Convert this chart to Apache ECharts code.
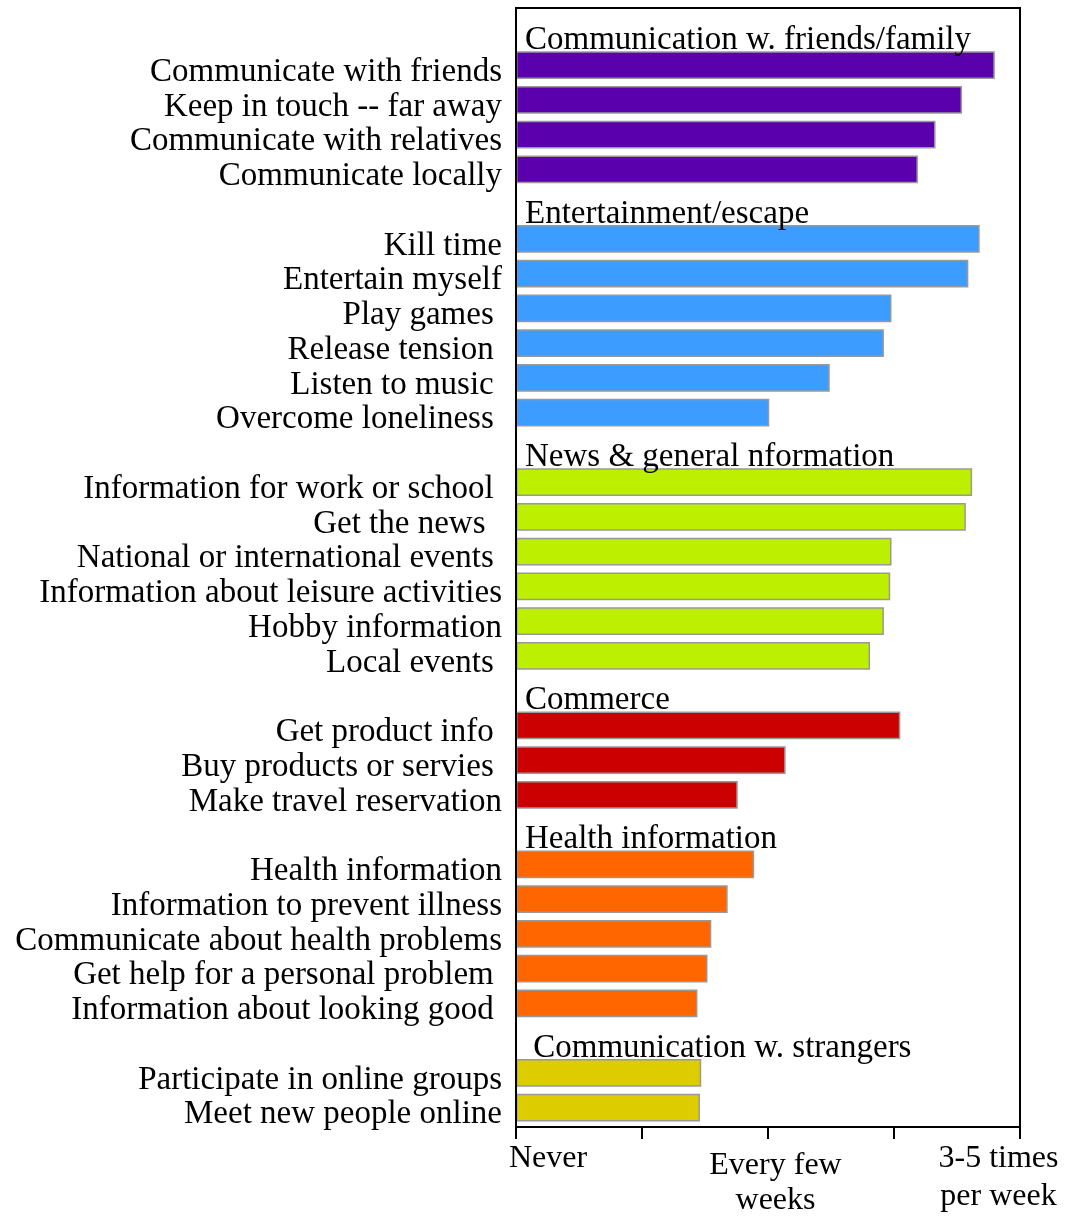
<!DOCTYPE html>
<html>
<head>
<meta charset="utf-8">
<script src="https://cdn.jsdelivr.net/npm/echarts@6/dist/echarts.min.js"></script>
<style>
html,body{margin:0;padding:0;background:#fff;}
#chart{width:1071px;height:1216px;}
</style>
</head>
<body>
<div id="chart"></div>
<script>
// ---- data ----
const groupTitles = [
  'Communication w. friends/family',
  'Entertainment/escape',
  'News & general nformation',
  'Commerce',
  'Health information',
  ' Communication w. strangers'
];

const commLabels = ['Communicate with friends', 'Keep in touch -- far away', 'Communicate with relatives', 'Communicate locally'];
const commValues = [3.80, 3.54, 3.33, 3.19];

const entLabels = ['Kill time', 'Entertain myself', 'Play games ', 'Release tension ', 'Listen to music ', 'Overcome loneliness '];
const entValues = [3.68, 3.59, 2.98, 2.92, 2.49, 2.01];

const newsLabels = ['Information for work or school ', 'Get the news  ', 'National or international events ', 'Information about leisure activities', 'Hobby information', 'Local events '];
const newsValues = [3.62, 3.57, 2.98, 2.97, 2.92, 2.81];

const commerceLabels = ['Get product info ', 'Buy products or servies ', 'Make travel reservation'];
const commerceValues = [3.05, 2.14, 1.76];

const healthLabels = ['Health information', 'Information to prevent illness', 'Communicate about health problems', 'Get help for a personal problem ', 'Information about looking good '];
const healthValues = [1.89, 1.68, 1.55, 1.52, 1.44];

const strangerLabels = ['Participate in online groups', 'Meet new people online'];
const strangerValues = [1.47, 1.46];

const xTickValues = [0, 2, 4];
const xTickLabels = ['Never', 'Every few\nweeks', '3-5 times\nper week'];

// ---- styles ----
const groupColors = ['#5A00AD', '#3D9CFF', '#BDEF00', '#CC0000', '#FF6600', '#DDCC00'];
const FONT = 'Liberation Serif';

const groupLabels = [commLabels, entLabels, newsLabels, commerceLabels, healthLabels, strangerLabels];
const groupValues = [commValues, entValues, newsValues, commerceValues, healthValues, strangerValues];

// build category slots: header slot + item slots per group
const categories = [];
const headerOfSlot = {};
const slotGroup = [];
groupLabels.forEach((labels, gi) => {
  headerOfSlot[categories.length] = gi;
  categories.push('#header' + gi);
  slotGroup.push(-1);
  labels.forEach(l => { categories.push(l); slotGroup.push(gi); });
});

const series = groupLabels.map((labels, gi) => {
  const data = categories.map(() => '-');
  let k = 0;
  categories.forEach((c, i) => {
    if (slotGroup[i] === gi) { data[i] = groupValues[gi][k++]; }
  });
  return {
    type: 'bar',
    name: groupTitles[gi],
    xAxisIndex: 0,
    yAxisIndex: 0,
    stack: 'all',
    data: data,
    barCategoryGap: '20%',
    itemStyle: { color: groupColors[gi], borderColor: '#999999', borderWidth: 1.5 },
    silent: true
  };
});

series.push({
  type: 'bar',
  name: 'headers',
  xAxisIndex: 0,
  yAxisIndex: 0,
  stack: 'all',
  data: categories.map((c, i) => (i in headerOfSlot ? 0 : '-')),
  itemStyle: { color: 'transparent', borderWidth: 0 },
  label: {
    show: true,
    position: 'right',
    distance: 9,
    offset: [0, 10],
    fontFamily: FONT,
    fontSize: 33,
    color: '#000',
    formatter: p => groupTitles[headerOfSlot[p.dataIndex]]
  },
  silent: true
});

const chart = echarts.init(document.getElementById('chart'), null, { renderer: 'canvas' });
chart.setOption({
  animation: false,
  backgroundColor: '#fff',
  grid: [
    { left: 516, right: 51, top: 13, bottom: 91, containLabel: false, outerBoundsMode: 'none', show: false },
    { left: 516, right: 51, top: 8, bottom: 89, containLabel: false, outerBoundsMode: 'none',
      show: true, borderColor: '#000', borderWidth: 2, backgroundColor: 'transparent', z: 5 }
  ],
  xAxis: [
    {
      gridIndex: 0, type: 'value', min: 0, max: 4, interval: 1,
      axisLine: { show: false }, axisTick: { show: false }, axisLabel: { show: false }, splitLine: { show: false }
    },
    {
      gridIndex: 1, type: 'value', min: 0, max: 4, interval: 1, z: 10,
      axisLine: { show: true, lineStyle: { color: '#000', width: 2 } },
      axisTick: { show: true, length: 12, lineStyle: { color: '#000', width: 2 } },
      splitLine: { show: false },
      axisLabel: {
        show: true,
        showMinLabel: true,
        showMaxLabel: true,
        margin: 14,
        fontFamily: FONT,
        fontSize: 32,
        lineHeight: 35,
        color: '#000',
        formatter: v => {
          const idx = xTickValues.indexOf(v);
          if (idx < 0) return '';
          const style = ['n', 'm', 'x'][idx];
          return xTickLabels[idx].split('\n').map((s, li) => '{' + style + (li + 1) + '|' + s + '}').join('\n');
        },
        rich: {
          n1: { fontFamily: FONT, fontSize: 32, lineHeight: 35, color: '#000', padding: [0, 0, 0, 64] },
          m1: { fontFamily: FONT, fontSize: 32, lineHeight: 35, color: '#000', padding: [15, 0, 0, 15] },
          m2: { fontFamily: FONT, fontSize: 32, lineHeight: 35, color: '#000', padding: [14, 0, 0, 15] },
          x1: { fontFamily: FONT, fontSize: 32, lineHeight: 35, color: '#000', padding: [0, 43, 0, 0] },
          x2: { fontFamily: FONT, fontSize: 32, lineHeight: 35, color: '#000', padding: [7, 43, 0, 0] }
        }
      }
    }
  ],
  yAxis: [
    {
      gridIndex: 0,
      type: 'category',
      inverse: true,
      data: categories,
      axisLine: { show: false },
      axisTick: { show: false },
      splitLine: { show: false },
      axisLabel: {
        show: true,
        interval: 0,
        margin: 14,
        color: '#000',
        formatter: v => (v.indexOf('#header') === 0 ? '' : '{t|' + v + '}'),
        rich: {
          t: { fontFamily: FONT, fontSize: 33, color: '#000', padding: [14, 0, 0, 0] }
        }
      }
    },
    {
      gridIndex: 1, type: 'value', min: 0, max: 1, z: 10,
      axisLine: { show: true, lineStyle: { color: '#000', width: 2 } },
      axisTick: { show: false }, axisLabel: { show: false }, splitLine: { show: false }
    }
  ],
  series: series
});
</script>
</body>
</html>
